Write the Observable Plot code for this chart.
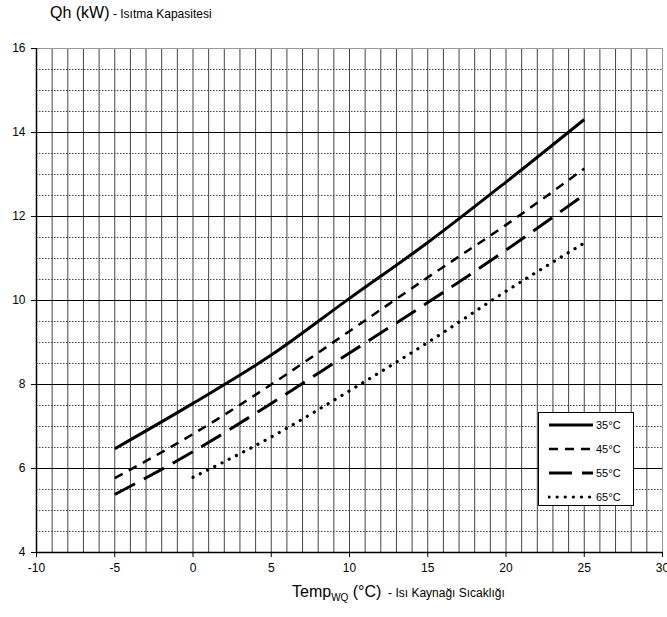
<!DOCTYPE html>
<html>
<head>
<meta charset="utf-8">
<script src="https://cdn.jsdelivr.net/npm/d3@7"></script>
<script src="https://cdn.jsdelivr.net/npm/@observablehq/plot@0.6"></script>
<style>
  body { margin: 0; background: #fff; font-family: "Liberation Sans", Arial, sans-serif; color: #000; }
  #wrap { position: relative; width: 667px; height: 617px; overflow: hidden; }
  #wrap > svg { position: absolute; left: 0; top: 0; }
  .title { position: absolute; left: 50px; top: 4px; white-space: nowrap; }
  .xtitle { position: absolute; left: 292px; top: 583px; white-space: nowrap; }
  .big { font-size: 16px; }
  .small { font-size: 12px; }
  .legend { position: absolute; left: 538px; top: 412px; width: 96px; height: 94px; box-sizing: border-box;
            border: 1px solid #000; background: #fff; padding-top: 0px; z-index: 2; }
  .legend .row { height: 24px; display: flex; align-items: center; padding-left: 9px; font-size: 11px; }
  .legend .row svg { display: block; margin-right: 2px; }
</style>
</head>
<body>
<div id="wrap">
  <div class="title"><span class="big">Qh (kW)</span><span class="small"> - Isıtma Kapasitesi</span></div>
  <div class="xtitle"><span class="big">Temp<sub style="font-size:10px">WQ</sub> (°C)</span><span class="small"> &nbsp;- Isı Kaynağı Sıcaklığı</span></div>
  <div class="legend" id="legend"></div>
</div>
<script>
// ---- data ----
const seriesNames = ["35°C", "45°C", "55°C", "65°C"];
const temps = [-5, 0, 5, 10, 15, 20, 25];
const temps65 = [0, 5, 10, 15, 20, 25];
const q35 = [6.47, 7.55, 8.70, 10.05, 11.38, 12.82, 14.31];
const q45 = [5.77, 6.82, 8.00, 9.27, 10.55, 11.80, 13.14];
const q55 = [5.38, 6.40, 7.55, 8.75, 9.95, 11.20, 12.52];
const q65 = [5.79, 6.75, 7.85, 9.00, 10.22, 11.37];
const xTicks = [-10, -5, 0, 5, 10, 15, 20, 25, 30];
const yTicks = [4, 6, 8, 10, 12, 14, 16];

// ---- styles (separate from data) ----
const styles = {
  "35°C": {strokeWidth: 3, dash: null, cap: "butt"},
  "45°C": {strokeWidth: 2.5, dash: "9,7", cap: "butt"},
  "55°C": {strokeWidth: 3, dash: "23,10", cap: "butt"},
  "65°C": {strokeWidth: 3.2, dash: "0.1,8", cap: "round"}
};

const table = [];
[[q35, temps], [q45, temps], [q55, temps], [q65, temps65]].forEach(([vals, ts], i) => {
  ts.forEach((t, j) => table.push({series: seriesNames[i], t, q: vals[j]}));
});

const xMinor = d3.range(-10, 31, 1);
const yMinor = d3.range(4, 16.01, 0.5).filter(v => v % 2 !== 0);
const yMajor = yTicks;

const lineMarks = seriesNames.map(name => Plot.line(table.filter(d => d.series === name), {
  x: "t", y: "q", stroke: "#000", strokeWidth: styles[name].strokeWidth,
  strokeDasharray: styles[name].dash, strokeLinecap: styles[name].cap,
  curve: "monotone-x"
}));

const chart = Plot.plot({
  width: 667, height: 617,
  marginLeft: 36, marginRight: 5, marginTop: 48, marginBottom: 65,
  style: {fontFamily: "Liberation Sans, Arial, sans-serif", fontSize: "12px", color: "#000", background: "transparent"},
  x: {domain: [-10, 30]},
  y: {domain: [4, 16]},
  marks: [
    Plot.ruleX(xMinor, {stroke: "#444", strokeWidth: 1}),
    Plot.ruleY(yMinor, {stroke: "#444", strokeWidth: 1, strokeDasharray: "1.5,1.5"}),
    Plot.ruleY(yMajor, {stroke: "#000", strokeWidth: 1}),
    Plot.frame({stroke: "#999"}),
    Plot.ruleX([-10], {stroke: "#000", strokeWidth: 1.5}),
    Plot.ruleY([4], {stroke: "#000", strokeWidth: 1.5}),
    ...lineMarks,
    Plot.axisX({ticks: xTicks, tickSize: 5, tickPadding: 6, fontSize: 12, label: null, tickFormat: d => String(d)}),
    Plot.axisY({ticks: yTicks, tickSize: 5, tickPadding: 6, fontSize: 12, label: null, tickFormat: d => String(d)})
  ]
});
document.getElementById("wrap").prepend(chart);

// ---- legend ----
const legend = d3.select("#legend");
seriesNames.forEach(name => {
  const row = legend.append("div").attr("class", "row");
  const s = row.append("svg").attr("width", 46).attr("height", 8);
  s.append("line").attr("x1", 1).attr("x2", 45).attr("y1", 4).attr("y2", 4)
    .attr("stroke", "#000").attr("stroke-width", styles[name].strokeWidth)
    .attr("stroke-dasharray", styles[name].dash).attr("stroke-linecap", styles[name].cap);
  row.append("span").text(name);
});
</script>
</body>
</html>
